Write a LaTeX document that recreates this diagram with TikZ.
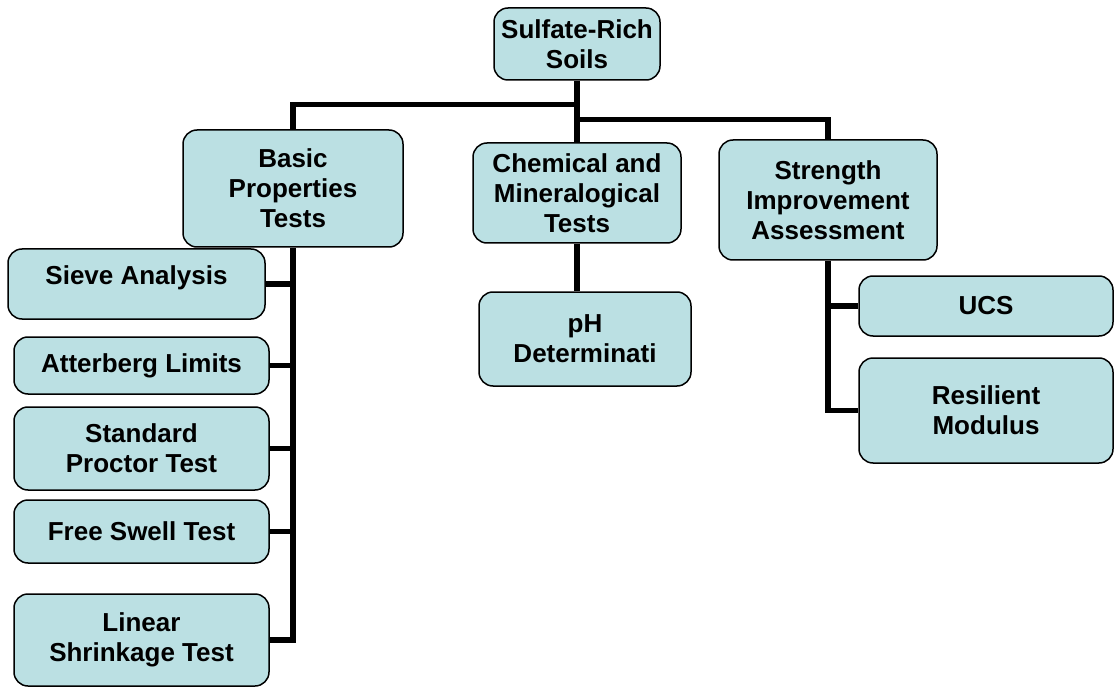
\documentclass[tikz,border=0pt]{standalone}
\usepackage{fontspec}
\setmainfont{Liberation Sans}
\usetikzlibrary{positioning}
\definecolor{boxcyan}{HTML}{BBE0E3}

\begin{document}
\begin{tikzpicture}[
    x=1pt, y=-1pt,
    box/.style={rectangle, draw, line width=1.5pt, rounded corners=14pt, fill=boxcyan, align=center, inner sep=0pt, font=\fontsize{26}{30}\selectfont\bfseries},
    conn/.style={line width=5.5pt}
]
\useasboundingbox (0,0) rectangle (1114,687);

% Top level
\node[box, minimum width=166pt, minimum height=72pt] (root) at (577,44) {Sulfate-Rich\\Soils};

% Test groups
\node[box, minimum width=220pt, minimum height=117pt] (basic) at (293,188.5) {Basic\\Properties\\Tests};
\node[box, minimum width=208pt, minimum height=100pt] (chem) at (577,193) {Chemical and\\Mineralogical\\Tests};
\node[box, minimum width=218pt, minimum height=120pt] (strength) at (828,200) {Strength\\Improvement\\Assessment};

% Basic properties
\node[box, minimum width=257pt, minimum height=70pt, text depth=18pt] (sieve) at (136.5,284) {Sieve Analysis};
\node[box, minimum width=255pt, minimum height=57pt] (atterberg) at (141.5,365.5) {Atterberg Limits};
\node[box, minimum width=255pt, minimum height=83pt] (proctor) at (141.5,448.5) {Standard\\Proctor Test};
\node[box, minimum width=255pt, minimum height=63pt] (swell) at (141.5,531.5) {Free Swell Test};
\node[box, minimum width=255pt, minimum height=92pt] (linear) at (141.5,640) {Linear\\Shrinkage Test};

% Chemical
\node[box, minimum width=212pt, minimum height=94pt] (ph) at (585,339) {pH\\Determinati};

% Strength
\node[box, minimum width=254pt, minimum height=60pt] (ucs) at (986,306) {UCS};
\node[box, minimum width=254pt, minimum height=105pt] (resilient) at (986,410.5) {Resilient\\Modulus};

% Connectors
\draw[conn] (root) -- (chem);
\draw[conn] (root.south) ++(0,24) -| (basic.north);
\draw[conn] (root.south) ++(0,39) -| (strength.north);

\draw[conn] (basic.south) |- (linear.east);
\foreach \leaf in {sieve, atterberg, proctor, swell}
    \draw[conn] (\leaf.east) -- (\leaf.east -| basic.south);

\draw[conn] (chem.south) -- (chem.south |- ph.north);

\draw[conn] (strength.south) |- (resilient.west);
\draw[conn] (ucs.west) -- (ucs.west -| strength.south);

\end{tikzpicture}
\end{document}
